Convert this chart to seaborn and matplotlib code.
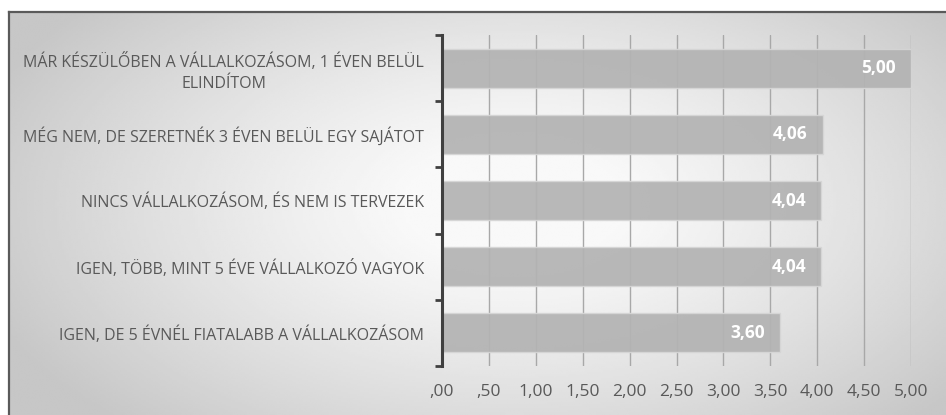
import numpy as np
import pandas as pd
import matplotlib
matplotlib.use('Agg')
import matplotlib.pyplot as plt
import seaborn as sns

categories = [
    'MÁR KÉSZÜLŐBEN A VÁLLALKOZÁSOM, 1 ÉVEN BELÜL\nELINDÍTOM',
    'MÉG NEM, DE SZERETNÉK 3 ÉVEN BELÜL EGY SAJÁTOT',
    'NINCS VÁLLALKOZÁSOM, ÉS NEM IS TERVEZEK',
    'IGEN, TÖBB, MINT 5 ÉVE VÁLLALKOZÓ VAGYOK',
    'IGEN, DE 5 ÉVNÉL FIATALABB A VÁLLALKOZÁSOM',
]
values = [5.00, 4.06, 4.04, 4.04, 3.60]
xticks = [0, 0.5, 1, 1.5, 2, 2.5, 3, 3.5, 4, 4.5, 5]
xtick_labels = [',00', ',50', '1,00', '1,50', '2,00', '2,50', '3,00', '3,50', '4,00', '4,50', '5,00']

df = pd.DataFrame({'kategoria': categories, 'ertek': values})

sns.set_theme(style='white')
plt.rcParams['font.family'] = ['Open Sans', 'DejaVu Sans']

W, H = 946, 415
fig = plt.figure(figsize=(W / 100, H / 100), dpi=100)
fig.patch.set_facecolor('white')

# gradient background box
bg = fig.add_axes([9 / W, 0, 1 - 9 / W, (H - 12) / H])
yy, xx = np.mgrid[0:200, 0:400]
d = np.sqrt(((xx - 215) / 240.0) ** 2 + ((yy - 95) / 150.0) ** 2)
shade = np.clip(1.0 - 0.22 * d ** 1.3, 0.78, 0.975)
bg.imshow(shade, cmap='gray', vmin=0, vmax=1, aspect='auto', interpolation='bilinear')
bg.set_xticks([])
bg.set_yticks([])
for s in ['right', 'bottom']:
    bg.spines[s].set_visible(False)
for s in ['top', 'left']:
    bg.spines[s].set_color('#5a5a5a')
    bg.spines[s].set_linewidth(1.6)

# plot area: x from 442 to 911 px, y from 35 to 366 px (from top)
ax = fig.add_axes([442 / W, (H - 366) / H, (911 - 442) / W, (366 - 35) / H])
ax.patch.set_alpha(0)
sns.barplot(data=df, x='ertek', y='kategoria', orient='h', color='#b3b3b3',
            saturation=1, width=0.59, edgecolor='#d6d6d6', linewidth=1,
            alpha=0.93, zorder=2, ax=ax)

ax.set_xlim(0, 5)
ax.set_ylim(4.5, -0.5)
ax.set_xticks(xticks)
ax.set_xticklabels(xtick_labels)
ax.xaxis.grid(True, color='#a8a8a8', linewidth=1)
ax.set_axisbelow(True)
ax.set_xlabel('')
ax.set_ylabel('')

for s in ['top', 'right', 'bottom']:
    ax.spines[s].set_visible(False)
ax.spines['left'].set_color('#404040')
ax.spines['left'].set_linewidth(2.2)
ax.spines['left'].set_zorder(3)

ax.tick_params(axis='x', length=0, pad=13, labelsize=12.5, labelcolor='#595959')
ax.tick_params(axis='y', which='major', length=0, pad=13, labelsize=11.5, labelcolor='#595959')
for lab in ax.get_yticklabels():
    lab.set_multialignment('center')
    lab.set_linespacing(1.45)
ax.set_yticks(np.arange(-0.5, 5, 1), minor=True)
ax.tick_params(axis='y', which='minor', left=True, length=5, width=2, color='#404040')

for i, v in enumerate(values):
    ax.annotate(f'{v:.2f}'.replace('.', ','), xy=(v, i), xytext=(-15, 0),
                textcoords='offset pixels', ha='right', va='center',
                color='white', fontsize=12.5, fontweight='bold', zorder=4)

fig.savefig('out.png', dpi=100)
